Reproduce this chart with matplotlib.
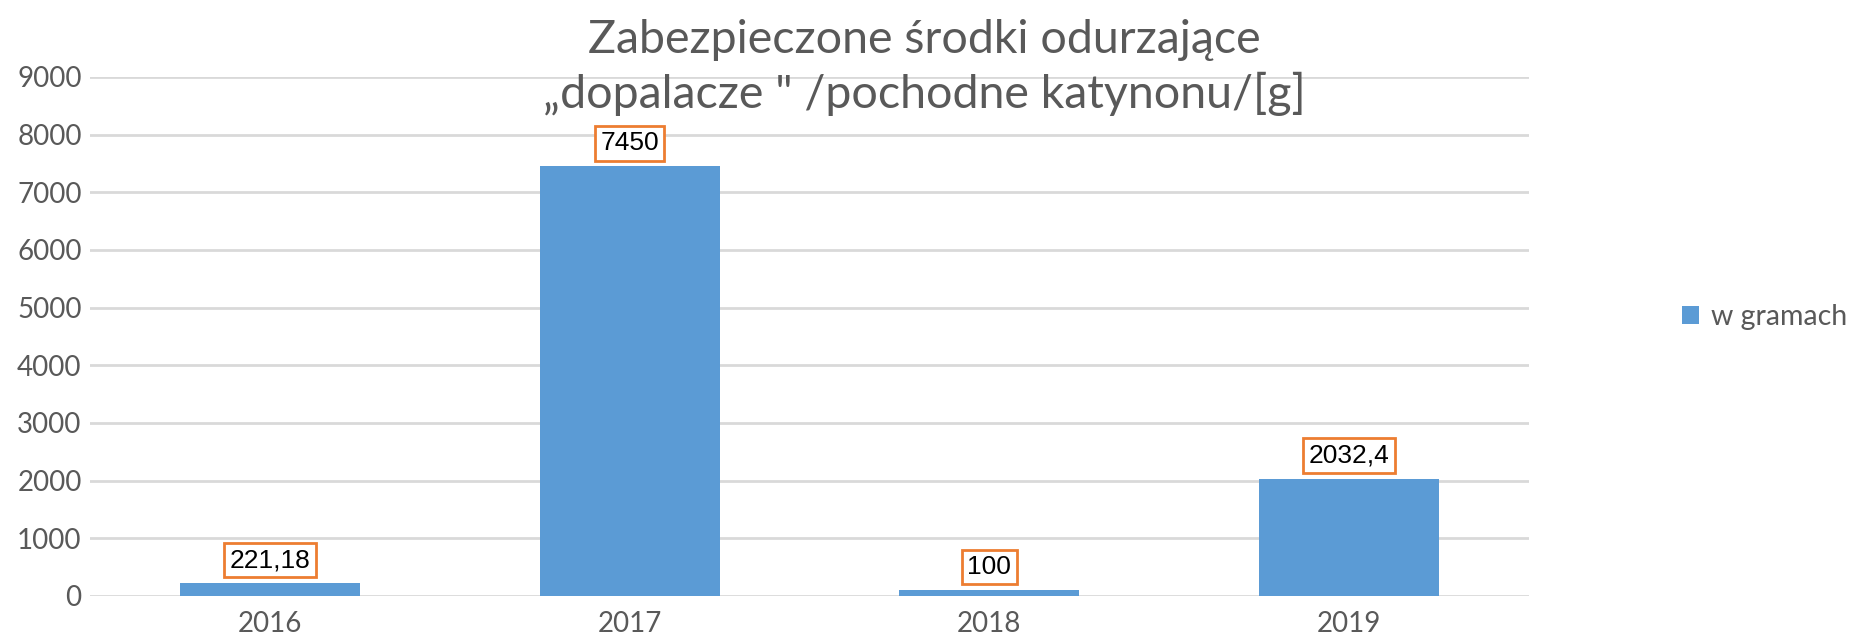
import matplotlib.pyplot as plt
from matplotlib import font_manager

# Data
years = ["2016", "2017", "2018", "2019"]
grams = [221.18, 7450, 100, 2032.4]
value_labels = ["221,18", "7450", "100", "2032,4"]
y_ticks = [0, 1000, 2000, 3000, 4000, 5000, 6000, 7000, 8000, 9000]

title = "Zabezpieczone środki odurzające\n„dopalacze \" /pochodne katynonu/[g]"
legend_label = "w gramach"

bar_color = "#5B9BD5"
text_color = "#595959"
grid_color = "#D9D9D9"

installed = {f.name for f in font_manager.fontManager.ttflist}
label_font = "Liberation Sans Narrow" if "Liberation Sans Narrow" in installed else "Liberation Sans"

plt.rcParams["font.family"] = ["Lato", "DejaVu Sans"]

fig = plt.figure(figsize=(18.59, 6.4), dpi=100)
ax = fig.add_axes([0.0484, 0.0688, 0.7741, 0.8109])

x = range(len(years))
bars = ax.bar(x, grams, width=0.5, color=bar_color, label=legend_label, zorder=3)

ax.set_xlim(-0.5, len(years) - 0.5)
ax.set_ylim(0, 9000)
ax.set_yticks(y_ticks)
ax.set_yticklabels([str(t) for t in y_ticks])
ax.set_xticks(list(x))
ax.set_xticklabels(years)

ax.grid(axis="y", color=grid_color, linewidth=2, zorder=0)
for side in ["top", "right", "left", "bottom"]:
    ax.spines[side].set_visible(False)
ax.tick_params(axis="both", length=0, labelsize=20, colors=text_color)
ax.tick_params(axis="x", pad=11)
ax.tick_params(axis="y", pad=6)

# data labels in orange boxes
for bar, lab in zip(bars, value_labels):
    ax.annotate(lab, (bar.get_x() + bar.get_width() / 2, bar.get_height()),
                xytext=(0, 8), textcoords="offset points", ha="center", va="bottom",
                fontsize=19, family=label_font, color="black", zorder=5,
                bbox=dict(boxstyle="square,pad=0.2", fc="white", ec="#ED7D31", lw=2))

fig.text(0.497, 0.97, title, ha="center", va="top", fontsize=33.5,
         color=text_color, linespacing=1.3)

fig.legend(loc="center left", bbox_to_anchor=(0.905, 0.505), frameon=False,
           fontsize=20.5, labelcolor=text_color, handlelength=0.6, handleheight=0.6,
           handletextpad=0.4, borderpad=0, borderaxespad=0)

fig.savefig("out.png", dpi=100)
